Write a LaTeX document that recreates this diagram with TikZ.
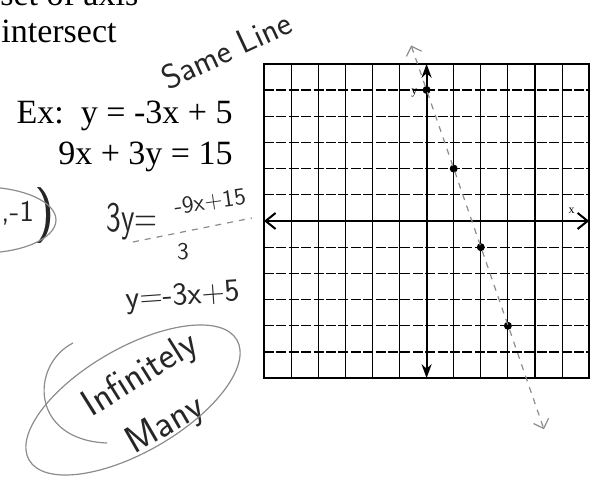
\documentclass[tikz,border=0pt]{standalone}
\usepackage{fontspec}
\setmainfont{Liberation Serif}
\usetikzlibrary{arrows.meta, calc, positioning}

\tikzset{
  printed/.style={font=\fontsize{17}{20}\selectfont, inner sep=0pt},
  hand/.style={inner sep=0pt, black!85},
  pencil/.style={black!45, line width=0.6pt},
  gridv/.style={line width=0.55pt},
  gridh/.style={line width=0.55pt, dash pattern=on 5pt off 1.2pt},
  plotpt/.style={circle, fill, inner sep=0pt, minimum size=4pt},
}
\newcommand{\handsz}[1]{\sffamily\fontsize{#1}{#1}\selectfont}

\begin{document}
\begin{tikzpicture}[x=0.5pt, y=0.5pt]
\useasboundingbox (0,0) rectangle (596,-485);

% printed text
\node[printed, anchor=base west] (top) at (0,-6) {set of axis};
\node[printed, anchor=base west] (inter) at (1,-43) {intersect};
\node[printed, anchor=base east] (ex1) at (233,-124) {Ex:\ \ y = -3x + 5};
\node[printed, anchor=base east] (ex2) at (233,-165) {9x + 3y = 15};

% grid, one unit per cell
\begin{scope}[shift={(426.6,-221)}, x=13.55pt, y=13.1pt]
  \foreach \i in {-5,...,5} {
    \draw[gridv] (\i,-6) -- (\i,6);
    \draw[gridh] (-6,\i) -- (6,\i);
  }
  \draw[line width=1pt] (-6,-6) rectangle (6,6);
  \draw[line width=1pt, {Straight Barb[length=5pt,width=8pt]}-{Straight Barb[length=5pt,width=8pt]}] (-6,0) -- (6,0);
  \draw[line width=1pt, {Stealth[length=7pt,width=5pt]}-{Stealth[length=7pt,width=5pt]}] (0,-6) -- (0,6);
  \node[font=\fontsize{6}{6}\selectfont] (ylab) at (-0.45,4.9) {y};
  \node[font=\fontsize{6}{6}\selectfont] (xlab) at (5.35,0.4) {x};
  \foreach \px/\py/\nm in {0/5/pa, 1/2/pb, 2/-1/pc, 3/-4/pd}
    \node[plotpt] (\nm) at (\px,\py) {};
  \coordinate (ltop) at (-0.57,6.7);
  \coordinate (lbot) at (4.33,-7.95);
  \draw[pencil, dashed, {Straight Barb[length=4pt,width=8pt]}-{Straight Barb[length=4pt,width=8pt]}] (ltop) -- (lbot);
\end{scope}

% handwriting
\node[hand, font=\handsz{17}, rotate=25] (same) at (226,-50) {Same Line};
\node[hand, font=\handsz{15}, anchor=east] (sol) at (55,-216) {,-1\raisebox{-4pt}{\fontsize{28}{28}\selectfont)}};
\draw[pencil] (-18,-220) ellipse [x radius=74, y radius=33];
\node[hand, font=\handsz{15}, yscale=1.4, anchor=west] (lhs) at (106,-222) {3y=};
\node[hand, font=\handsz{12}, rotate=8] (num) at (210,-202) {-9x+15};
\coordinate (fl) at (133,-242);
\coordinate (fr) at (252,-218);
\draw[pencil, dashed] (fl) -- (fr);
\node[hand, font=\handsz{12}] (den) at (183,-252) {3};
\node[hand, font=\handsz{16}, rotate=4] (res) at (183,-297) {y=-3x+5};
\node[hand, font=\handsz{19}, rotate=32] (inf) at (141,-376) {Infinitely};
\node[hand, font=\handsz{19}, rotate=30] (many) at (166,-426) {Many};
\draw[pencil, rotate around={30:(133,-400)}] (133,-400) ellipse [x radius=120, y radius=52];
\draw[pencil] (73,-343) .. controls (30,-365) and (30,-440) .. (107,-443);
\end{tikzpicture}
\end{document}
